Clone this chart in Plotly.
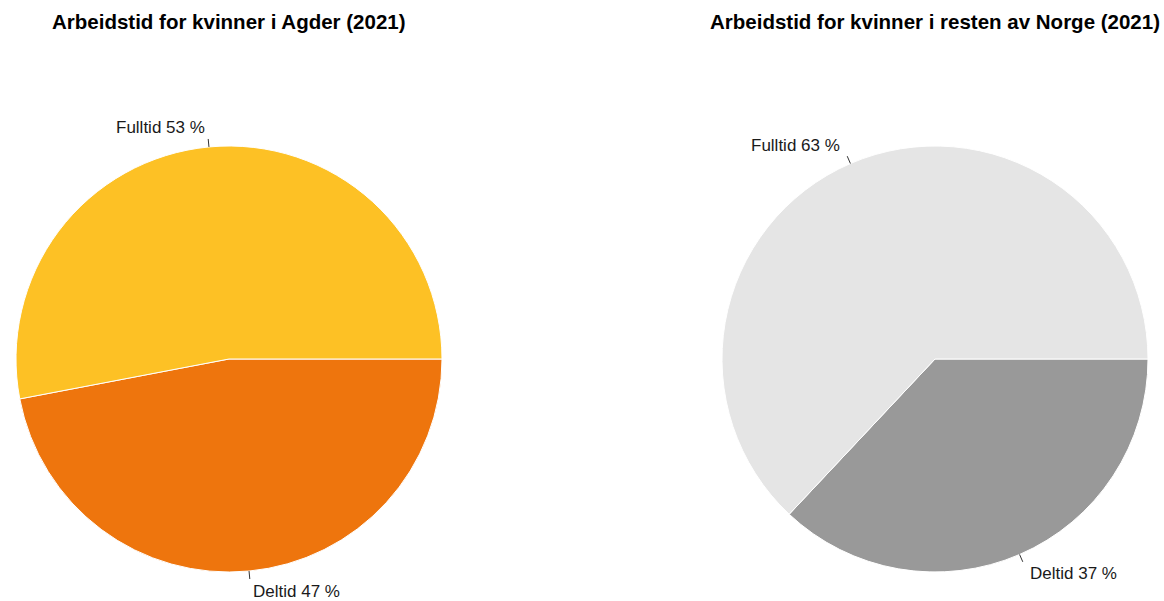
import math
import plotly.graph_objects as go

# Data
categories = ["Fulltid", "Deltid"]
agder_values = [53, 47]
norge_values = [63, 37]
titles = ["Arbeidstid for kvinner i Agder (2021)",
          "Arbeidstid for kvinner i resten av Norge (2021)"]
agder_colors = ["#FDC125", "#EE750D"]
norge_colors = ["#E5E5E5", "#999999"]

W, H = 1164, 601
R = 213
centers = [(229, 359), (935, 359)]
FONT = "Liberation Sans, Arial, sans-serif"

fig = go.Figure()
annotations = []
shapes = []

def px2paper(x, y):
    return x / W, 1 - y / H

for (cx, cy), vals, cols, title in zip(centers, [agder_values, norge_values],
                                       [agder_colors, norge_colors], titles):
    x0, y1 = px2paper(cx - R, cy - R)
    x1, y0 = px2paper(cx + R, cy + R)
    # plotly places the first slice clockwise of `rotation` in ccw mode,
    # so feed the slices reversed to get Fulltid starting at 3 o'clock going ccw
    fig.add_trace(go.Pie(
        labels=categories[::-1], values=vals[::-1], sort=False,
        direction="counterclockwise", rotation=90,
        marker=dict(colors=cols[::-1], line=dict(color="white", width=1)),
        textinfo="none", hoverinfo="label+percent",
        domain=dict(x=[x0, x1], y=[y0, y1]), showlegend=False,
    ))
    total = sum(vals)
    cum = 0
    for lab, v in zip(categories, vals):
        mid = (cum + v / 2) / total * 2 * math.pi
        cum += v
        c, s = math.cos(mid), math.sin(mid)
        ax0, ay0 = px2paper(cx + R * c, cy - R * s)
        ax1, ay1 = px2paper(cx + (R + 8) * c, cy - (R + 8) * s)
        shapes.append(dict(type="line", xref="paper", yref="paper",
                           x0=ax0, y0=ay0, x1=ax1, y1=ay1,
                           line=dict(color="#333333", width=1)))
        dy = 2 if s > 0 else -1
        tx, ty = px2paper(cx + (R + 22) * c, cy - (R + 22) * s + dy)
        annotations.append(dict(
            text=f"{lab} {round(v / total * 100)} %", x=tx, y=ty,
            xref="paper", yref="paper", showarrow=False,
            xanchor="right" if c < 0 else "left", yanchor="middle",
            font=dict(family=FONT, size=17, color="#1a1a1a")))
    tx, ty = px2paper(cx, 22)
    annotations.append(dict(
        text=f"<b>{title}</b>", x=tx, y=ty, xref="paper", yref="paper",
        showarrow=False, xanchor="center", yanchor="middle",
        font=dict(family=FONT, size=20.5, color="#000000")))

fig.update_layout(
    width=W, height=H, margin=dict(l=0, r=0, t=0, b=0),
    paper_bgcolor="white", plot_bgcolor="white",
    annotations=annotations, shapes=shapes,
)
fig.write_html("out.html", config={"displayModeBar": False},
               post_script="document.body.style.margin='0';document.body.style.overflow='hidden';")
